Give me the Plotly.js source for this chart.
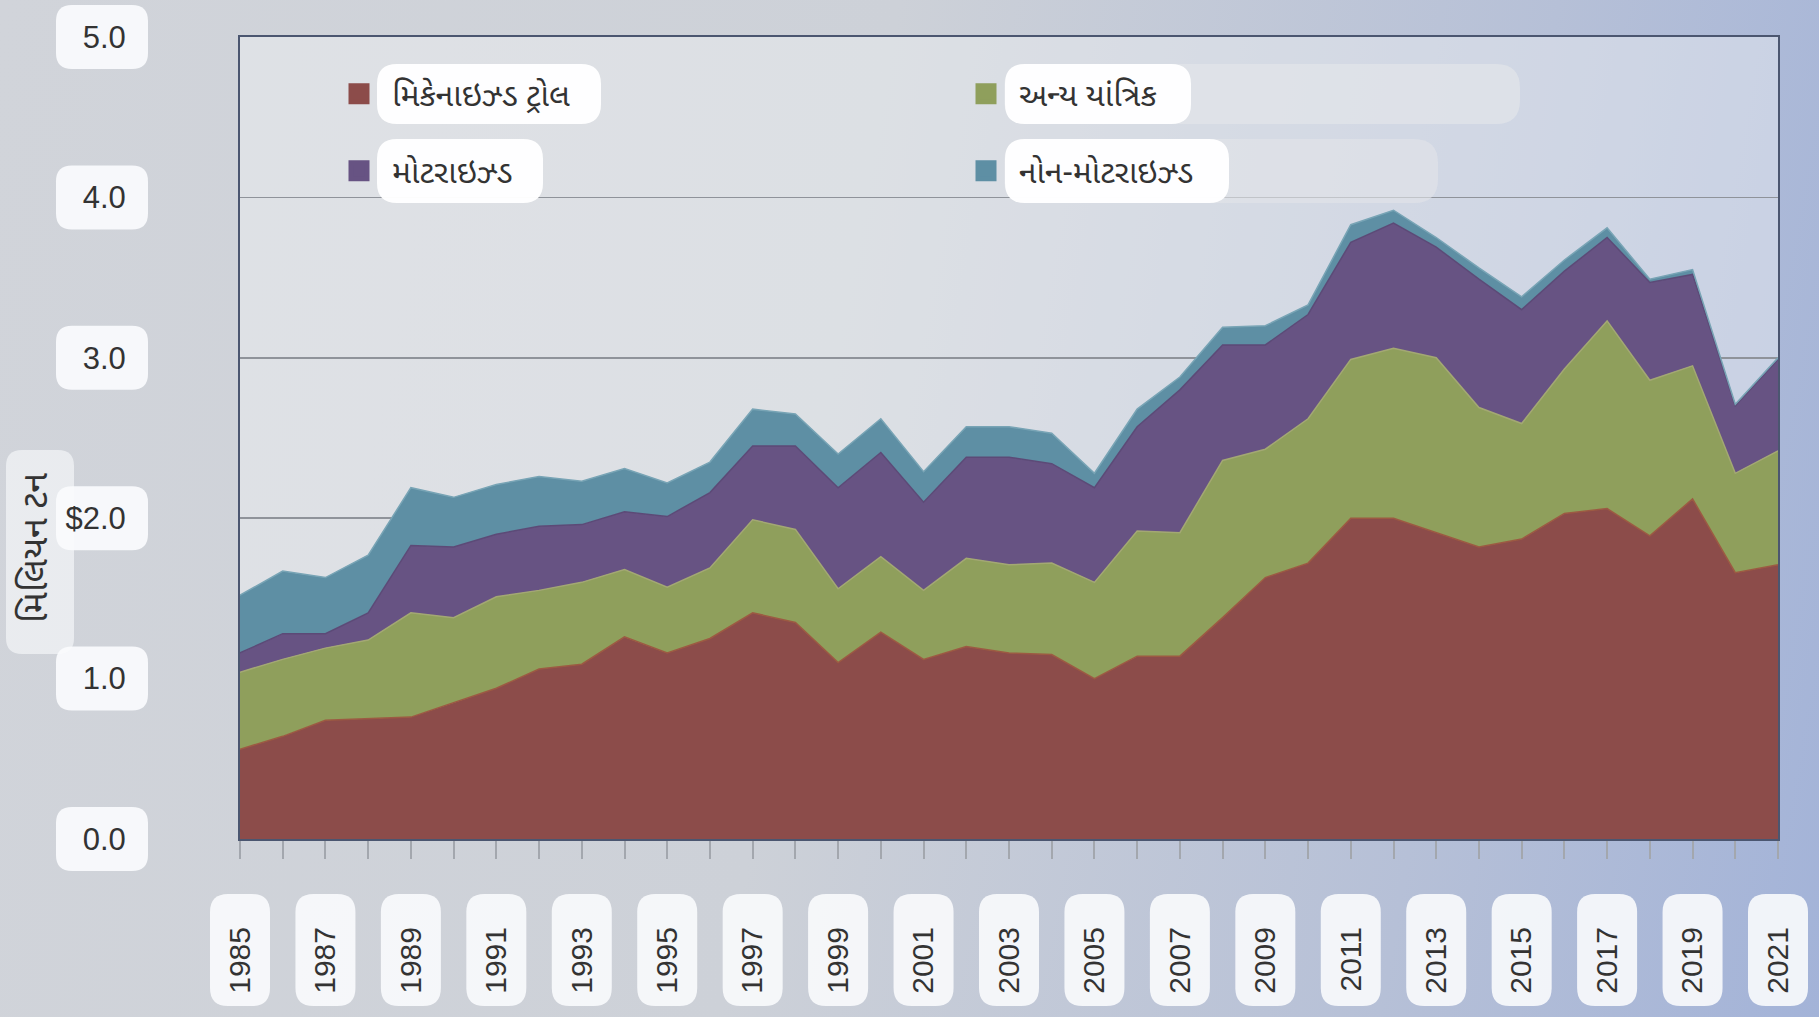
<!DOCTYPE html>
<html>
<head>
<meta charset="utf-8">
<script src="https://cdn.plot.ly/plotly-3.0.1.min.js"></script>
<style>
html, body { margin: 0; padding: 0; }
body {
    width: 1819px; height: 1017px; overflow: hidden;
    background: linear-gradient(100deg, #d1d4da 0%, #cdd1d8 45%, #b6c0d7 78%, #a3b3d8 100%);
}
#plotlyArea { width: 1819px; height: 1017px; }
</style>
</head>
<body>
<div id="plotlyArea"></div>
<script>
// years and the four catch series (million tonnes)
var years = [1985, 1986, 1987, 1988, 1989, 1990, 1991, 1992, 1993, 1994, 1995, 1996, 1997,
    1998, 1999, 2000, 2001, 2002, 2003, 2004, 2005, 2006, 2007, 2008, 2009, 2010, 2011,
    2012, 2013, 2014, 2015, 2016, 2017, 2018, 2019, 2020, 2021];
var trawl = [0.56, 0.64, 0.74, 0.75, 0.76, 0.85, 0.94, 1.06, 1.09, 1.26, 1.16, 1.25, 1.41,
    1.35, 1.10, 1.29, 1.12, 1.20, 1.16, 1.15, 1.00, 1.14, 1.14, 1.38, 1.63, 1.72, 2.00,
    2.00, 1.91, 1.82, 1.87, 2.03, 2.06, 1.89, 2.12, 1.66, 1.71];
var otherMech = [0.48, 0.48, 0.45, 0.49, 0.65, 0.53, 0.57, 0.49, 0.51, 0.42, 0.41, 0.44, 0.58,
    0.58, 0.46, 0.47, 0.43, 0.55, 0.55, 0.57, 0.60, 0.78, 0.77, 0.98, 0.80, 0.90, 0.99,
    1.06, 1.09, 0.87, 0.72, 0.90, 1.17, 0.97, 0.83, 0.62, 0.71];
var motorized = [0.12, 0.16, 0.09, 0.17, 0.42, 0.44, 0.39, 0.40, 0.36, 0.36, 0.44, 0.47, 0.46,
    0.52, 0.63, 0.65, 0.55, 0.63, 0.67, 0.62, 0.59, 0.65, 0.89, 0.72, 0.65, 0.65, 0.73,
    0.78, 0.69, 0.80, 0.71, 0.61, 0.52, 0.61, 0.57, 0.42, 0.57];
var nonMotorized = [0.36, 0.39, 0.35, 0.36, 0.36, 0.31, 0.31, 0.31, 0.27, 0.27, 0.21, 0.19, 0.23,
    0.20, 0.21, 0.21, 0.19, 0.19, 0.19, 0.19, 0.09, 0.11, 0.08, 0.11, 0.12, 0.06, 0.11,
    0.08, 0.06, 0.07, 0.08, 0.07, 0.06, 0.02, 0.03, 0.01, 0.01];

var seriesNames = ['મિકેનાઇઝ્ડ ટ્રોલ', 'અન્ય યાંત્રિક', 'મોટરાઇઝ્ડ', 'નોન-મોટરાઇઝ્ડ'];
var seriesColors = ['#8c4c4a', '#8f9f5c', '#675383', '#5e8fa4'];
var edgeColors = ['#9c5a42', '#a3a873', '#5c4a77', '#78a4b5'];

var xTickVals = [1985, 1987, 1989, 1991, 1993, 1995, 1997, 1999, 2001, 2003, 2005,
    2007, 2009, 2011, 2013, 2015, 2017, 2019, 2021];
var yTickVals = [0, 1, 2, 3, 4, 5];
var yTickText = ['0.0', '1.0', '$2.0', '3.0', '4.0', '5.0'];
var yTitle = 'મિલિયન ટન';

var guj = "'Noto Sans Gujarati', 'Noto Sans', sans-serif";
var num = "'Liberation Sans', Arial, sans-serif";

// plot box in page pixels, used only for the label boxes
var L = 240, R = 1778, T = 37, B = 839;
function px(X) { return (X - L) / (R - L); }
function py(Y) { return (B - Y) / (B - T); }

function rr(w, h, r) {
    return 'M' + (-w + r) + ',' + (-h) + ' L' + (w - r) + ',' + (-h) +
        ' Q' + w + ',' + (-h) + ' ' + w + ',' + (-h + r) +
        ' L' + w + ',' + (h - r) + ' Q' + w + ',' + h + ' ' + (w - r) + ',' + h +
        ' L' + (-w + r) + ',' + h + ' Q' + (-w) + ',' + h + ' ' + (-w) + ',' + (h - r) +
        ' L' + (-w) + ',' + (-h + r) + ' Q' + (-w) + ',' + (-h) + ' ' + (-w + r) + ',' + (-h) + ' Z';
}
function box(xa, ya, w, h, r, fill, layer) {
    return {
        type: 'path', xref: 'paper', yref: 'paper',
        xsizemode: 'pixel', ysizemode: 'pixel', xanchor: xa, yanchor: ya,
        path: rr(w, h, r), fillcolor: fill, line: {width: 0}, layer: layer || 'below'
    };
}

var values = [trawl, otherMech, motorized, nonMotorized];
var legendOf = ['legend', 'legend', 'legend2', 'legend2'];
var data = [];
values.forEach(function(v, i) {
    data.push({
        x: years, y: v, type: 'scatter', mode: 'lines', stackgroup: 'one',
        name: seriesNames[i], fillcolor: seriesColors[i],
        line: {color: edgeColors[i], width: 1.5},
        showlegend: false, legendgroup: 'g' + i
    });
});
// legend entries with square swatches
values.forEach(function(v, i) {
    data.push({
        x: [null], y: [null], type: 'scatter', mode: 'markers',
        name: seriesNames[i], legend: legendOf[i], legendgroup: 'g' + i,
        marker: {symbol: 'square', size: 16, color: seriesColors[i],
            line: {color: seriesColors[i], width: 5}}
    });
});

var shapes = [];
yTickVals.forEach(function(v) {
    shapes.push(box(px(102), v / 5, 46, 32, 16, 'rgba(250,251,253,0.93)'));
});
xTickVals.forEach(function(yr) {
    shapes.push(box((yr - 1985) / 36, py(950), 30, 56, 18, 'rgba(250,251,253,0.9)'));
});
// y title box
shapes.push(box(px(40), py(552), 34, 102, 16, 'rgba(250,251,253,0.6)'));
// legend label boxes
shapes.push(box(px(1262), py(94), 258, 30, 24, 'rgba(226,229,234,0.7)', 'above'));
shapes.push(box(px(1221), py(171), 217, 32, 24, 'rgba(226,229,234,0.6)', 'above'));
shapes.push(box(px(489), py(94), 112, 30, 20, 'rgba(255,255,255,0.97)', 'above'));
shapes.push(box(px(460), py(171), 83, 32, 20, 'rgba(255,255,255,0.97)', 'above'));
shapes.push(box(px(1098), py(94), 93, 30, 20, 'rgba(255,255,255,0.97)', 'above'));
shapes.push(box(px(1117), py(171), 112, 32, 20, 'rgba(255,255,255,0.97)', 'above'));

var legendBase = {
    orientation: 'h', entrywidth: 556, entrywidthmode: 'pixels', itemwidth: 56,
    traceorder: 'normal', bgcolor: 'rgba(0,0,0,0)', borderwidth: 0,
    font: {family: guj, size: 32, color: '#333'}, xanchor: 'left', yanchor: 'middle'
};
var legend1 = Object.assign({}, legendBase, {x: px(326), y: py(94)});
var legend2 = Object.assign({}, legendBase, {x: px(326), y: py(171)});

var layout = {
    width: 1819, height: 1017,
    margin: {l: L, r: 1819 - R, t: T, b: 1017 - B},
    paper_bgcolor: 'rgba(0,0,0,0)',
    plot_bgcolor: 'rgba(240,241,243,0.45)',
    hovermode: false,
    xaxis: {
        range: [1985, 2021], tickmode: 'array', tickvals: xTickVals,
        tickangle: -90, ticks: 'outside', ticklen: 18, tickwidth: 2, tickcolor: '#a3a7ae',
        ticklabelstandoff: 56,
        minor: {tickmode: 'array', tickvals: years, ticks: 'outside', ticklen: 18,
            tickwidth: 2, tickcolor: '#a3a7ae', showgrid: false},
        tickfont: {family: num, size: 30, color: '#333'},
        showgrid: false, zeroline: false,
        showline: true, mirror: true, linecolor: '#4b5670', linewidth: 2
    },
    yaxis: {
        range: [0, 5], tickmode: 'array', tickvals: yTickVals, ticktext: yTickText,
        ticks: '', ticklabelstandoff: 106,
        tickfont: {family: num, size: 31, color: '#333'},
        showgrid: true, gridcolor: '#8f939a', gridwidth: 1.5, zeroline: false,
        showline: true, mirror: true, linecolor: '#4b5670', linewidth: 2
    },
    legend: legend1,
    legend2: legend2,
    shapes: shapes,
    annotations: [{
        text: yTitle, xref: 'paper', yref: 'paper', x: px(38), y: py(548),
        xanchor: 'center', yanchor: 'middle',
        textangle: -90, showarrow: false,
        font: {family: guj, size: 36, color: '#333'}
    }]
};

Plotly.newPlot('plotlyArea', data, layout, {staticPlot: true, displayModeBar: false});
</script>
</body>
</html>
